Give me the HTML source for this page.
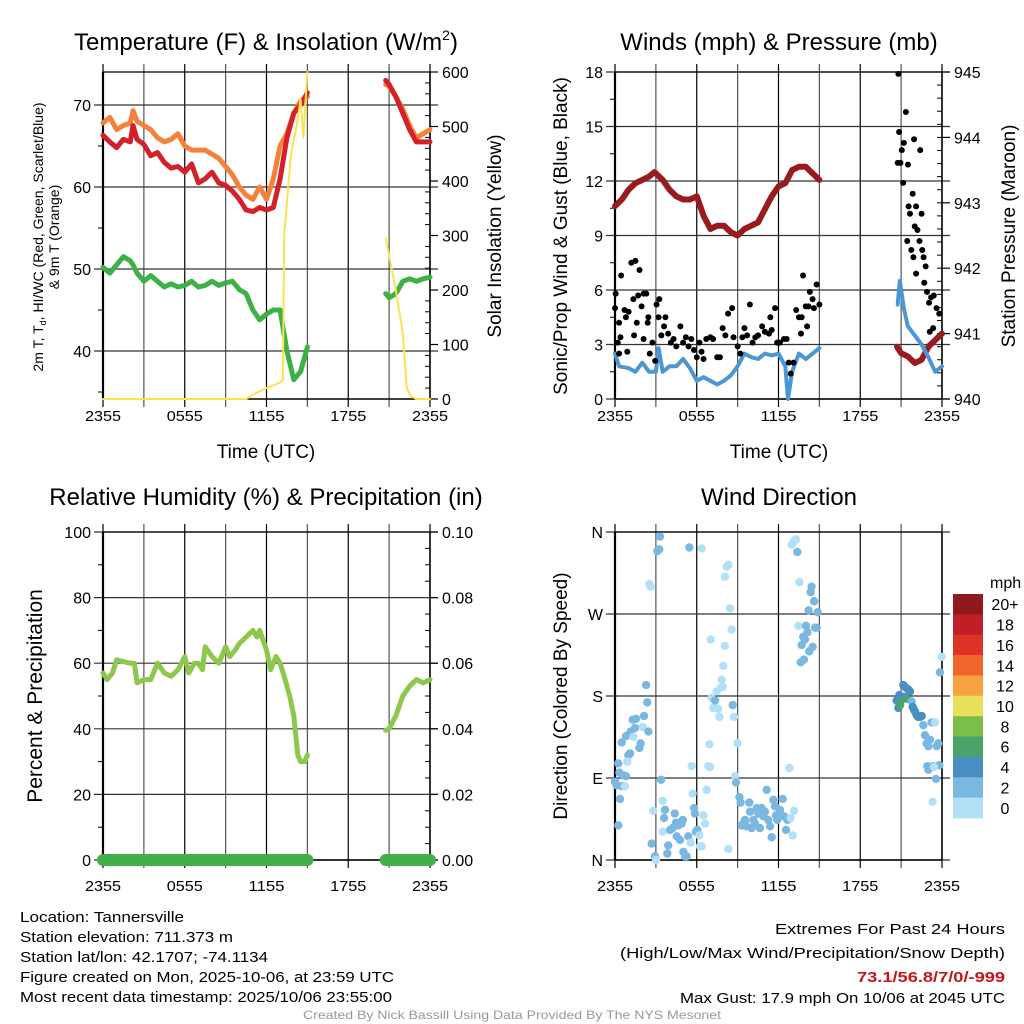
<!DOCTYPE html>
<html><head><meta charset="utf-8">
<style>
html,body{margin:0;padding:0;background:#fff;}
svg{display:block;font-family:"Liberation Sans",sans-serif;}
</style></head>
<body>
<svg id="chart" width="1024" height="1024" viewBox="0 0 1024 1024" xmlns="http://www.w3.org/2000/svg">
<rect width="1024" height="1024" fill="#fff"/>
<g id="p1"></g>
<g id="p2"></g>
<g id="p3"></g>
<g id="p4"></g>
<g id="cb"></g>

<text x="266" y="50" font-size="24" text-anchor="middle">Temperature (F) &amp; Insolation (W/m<tspan font-size="14" dy="-10">2</tspan><tspan dy="10">)</tspan></text>
<text x="779" y="50" font-size="24" text-anchor="middle">Winds (mph) &amp; Pressure (mb)</text>
<text x="266" y="505" font-size="24" text-anchor="middle">Relative Humidity (%) &amp; Precipitation (in)</text>
<text x="779" y="505" font-size="24" text-anchor="middle">Wind Direction</text>

<g font-size="15">
<text x="20" y="922" textLength="164" lengthAdjust="spacingAndGlyphs">Location: Tannersville</text>
<text x="20" y="942" textLength="213" lengthAdjust="spacingAndGlyphs">Station elevation: 711.373 m</text>
<text x="20" y="962" textLength="248" lengthAdjust="spacingAndGlyphs">Station lat/lon: 42.1707; -74.1134</text>
<text x="20" y="982" textLength="374" lengthAdjust="spacingAndGlyphs">Figure created on Mon, 2025-10-06, at 23:59 UTC</text>
<text x="20" y="1002" textLength="372" lengthAdjust="spacingAndGlyphs">Most recent data timestamp: 2025/10/06 23:55:00</text>
</g>
<g font-size="15" text-anchor="end">
<text x="1005" y="934" textLength="230" lengthAdjust="spacingAndGlyphs">Extremes For Past 24 Hours</text>
<text x="1005" y="958" textLength="385" lengthAdjust="spacingAndGlyphs">(High/Low/Max Wind/Precipitation/Snow Depth)</text>
<text x="1005" y="982" textLength="148" lengthAdjust="spacingAndGlyphs" fill="#c4161c" font-weight="bold">73.1/56.8/7/0/-999</text>
<text x="1005" y="1003" textLength="325" lengthAdjust="spacingAndGlyphs">Max Gust: 17.9 mph On 10/06 at 2045 UTC</text>
</g>
<text x="512" y="1019" font-size="12" fill="#999" text-anchor="middle" textLength="418" lengthAdjust="spacingAndGlyphs">Created By Nick Bassill Using Data Provided By The NYS Mesonet</text>
</svg>
<script>
// ---------- DATA ----------
const xTickLabels = ["2355","0555","1155","1755","2355"];
const tempHours = [0,0.5,1,1.5,2,2.2,2.5,3,3.5,4,4.5,5,5.5,6,6.5,7,7.5,8,8.5,9,9.5,10,10.5,11,11.5,12,12.5,13,13.5,14,14.5,15];
const temp2m = [66.3,65.5,64.8,65.8,65.5,67.5,65.8,65.2,63.8,64.2,63,62.3,62.5,61.8,62.8,60.5,61,61.8,60.5,60.2,59.5,58.5,57.2,57,57.5,57.2,57.5,61,66,69,70,71.5];
const temp9m = [67.8,68.5,67,67.5,67.8,69.3,68,67.5,67,66,65.5,65.8,66.5,65,64.5,64.5,64.5,64,63.5,62.5,61.5,60,59,58.5,60,58.5,61,65,66.5,69,70.5,71];
const dewpt = [50.2,49.5,50.5,51.5,51,50.5,49.5,48.5,49.2,48.5,47.8,48.2,47.8,48,48.5,47.8,48,48.5,48,48.3,48.5,47.5,47,45,43.8,44.5,45,45,40,36.5,37.5,40.5];
const tempHours2 = [20.75,21,21.5,22,22.5,23,23.5,24];
const temp2m2 = [73,72.5,71,69,67,65.5,65.5,65.5];
const temp9m2 = [72.5,72.3,71,69.5,67.5,66,66.5,67];
const dewpt2 = [47,46.5,47,48.5,48.8,48.5,48.8,49];
const solarHours = [0,10.5,11,12,13,13.2,13.3,13.8,14.2,14.5,14.7,15];
const solar = [0,0,8,20,30,35,300,450,500,550,480,600];
const solarHours2 = [20.75,21.5,22,22.3,22.6,23,24];
const solar2 = [295,200,120,20,5,0,0];
const tempTicks = [40,50,60,70];
const solarTicks = [0,100,200,300,400,500,600];
const windHours = [0,0.3,1,1.5,2,2.5,3,3.2,3.5,4,4.5,5,5.5,6,6.5,7,7.5,8,8.5,9,9.5,10,10.5,11,11.5,12,12.5,12.7,13,13.5,14,14.5,15];
const windSpeed = [2.5,1.8,1.7,1.5,2,1.5,1.5,2.8,1.5,1.8,1.8,2.2,1.7,1,1.2,1,0.8,1,1.3,1.8,2.5,2.3,2.2,2.5,2.4,2.5,1.8,0,1.5,2.5,2.2,2.5,2.8];
const windHours2 = [20.75,20.9,21.2,21.5,22,22.5,23,23.5,24];
const windSpeed2 = [5.2,6.5,5,4,3.5,3,2.3,1.5,1.8];
const gustHours = [0,0.05,0.2,0.3,0.45,0.3,0.4,0.7,0.8,0.9,1.0,1.2,1.5,1.8,1.35,1.4,1.6,1.7,1.95,2.1,2.3,2.1,2.45,2.4,2.55,2.75,2.95,3.05,3.25,3.2,3.4,3.6,3.7,3.9,4.1,4.3,4.5,4.8,5.0,5.2,5.4,5.6,5.8,6.0,6.2,6.35,6.5,6.7,7.0,7.2,7.5,7.7,7.9,8.1,8.3,8.6,8.7,9.0,9.2,9.35,9.5,9.9,9.7,10.1,10.3,10.5,10.8,11.0,11.3,11.4,11.5,11.75,11.9,12.1,12.4,12.6,12.75,12.9,13.1,13.3,13.5,13.7,13.8,14.0,14.1,14.3,14.5,14.6,14.8,15.0,13.65,14.2,
 20.8,20.85,20.75,20.95,21.05,21.2,21.35,21.15,21.45,21.5,21.55,21.65,21.75,21.85,21.9,21.95,22.1,22.1,22.0,22.2,22.35,22.4,22.5,22.55,22.65,22.8,22.7,22.9,23.05,23.2,23.4,23.1,23.35,23.6,23.8];
const gustSpeed = [5.0,5.8,3.1,2.5,6.8,4.2,3.4,4.9,4.5,2.6,4.8,7.5,7.6,7.1,5.5,3.5,4.2,5.7,5.1,5.8,5.8,3.3,4.5,4.2,2.5,3.1,2.1,5.2,5.5,4.5,3.5,4.0,4.5,3.6,3.1,3.3,2.9,4.0,3.1,3.4,2.9,3.3,2.7,2.3,3.1,2.6,2.2,3.3,3.4,3.3,2.3,2.3,3.9,3.5,4.7,5.0,3.4,2.9,2.5,3.4,3.9,5.2,3.5,3.1,3.4,3.5,4.0,3.7,3.6,4.5,3.8,5.0,3.1,3.1,3.3,3.3,2.0,1.4,2.0,4.9,4.5,4.5,6.8,5.1,4.0,5.9,5.5,5.0,6.3,5.2,3.6,5.1,
 17.9,14.7,13.0,13.0,13.7,14.1,15.8,11.9,8.7,12.9,10.6,10.2,8.2,11.3,7.8,14.3,10.6,6.9,9.5,9.3,8.7,13.7,10.2,8.2,7.8,7.3,6.4,5.9,5.3,5.6,5.7,3.7,3.9,5.0,4.7];
const presHours = [0,0.5,1,1.5,2,2.5,2.9,3.5,4,4.5,5,5.5,6,6.5,7,7.5,8,8.5,9,9.5,10,10.5,11,11.5,12,12.5,13,13.5,14,14.5,15];
const pressure = [942.95,943.05,943.2,943.3,943.35,943.4,943.47,943.35,943.2,943.1,943.05,943.05,943.1,942.8,942.6,942.65,942.65,942.55,942.5,942.6,942.65,942.7,942.9,943.1,943.25,943.3,943.5,943.55,943.55,943.45,943.35];
const presHours2 = [20.7,21,21.5,22,22.5,23,23.5,24];
const pressure2 = [940.8,940.7,940.65,940.55,940.6,940.8,940.9,941.0];
const windTicks = [0,3,6,9,12,15,18];
const presTicks = [940,941,942,943,944,945];
const rhHours = [0,0.3,0.7,1,1.5,2,2.3,2.5,3,3.5,4,4.5,5,5.5,6,6.3,6.7,7,7.3,7.5,8,8.5,9,9.3,9.7,10,10.5,11,11.3,11.5,12,12.3,12.7,13,13.3,13.7,14,14.3,14.5,14.8,15];
const rh = [57,55,57,61,60.5,60,60,54,55,55,60,57,56,58,62,57,60,60,58,65,62,60,65,62,64,66,68,70,68,70,64,58,62,60,56,50,44,32,30,30,32];
const rhHours2 = [20.75,21,21.5,22,22.5,23,23.5,24];
const rh2 = [39.5,40,44,50,53,55,54,55];
const precipHours = [0,15];
const precip = [0,0];
const precipHours2 = [20.75,24];
const precip2 = [0,0];
const rhTicks = [0,20,40,60,80,100];
const precipTicks = ["0.00","0.02","0.04","0.06","0.08","0.10"];
const dirHours = [
 0.0,0.12,0.24,0.32,0.37,0.49,0.61,0.73,0.81,0.24,
 0.49,0.81,0.98,0.91,1.10,1.15,1.35,1.47,1.30,1.54,
 1.79,1.88,2.03,2.13,2.28,2.37,2.45,2.52,2.62,2.69,
 2.81,2.94,3.01,3.11,3.25,3.30,3.38,3.50,3.67,3.60,
 3.50,3.91,3.84,4.04,4.23,4.38,4.48,4.53,4.65,4.77,
 4.89,4.97,5.02,5.14,5.26,5.38,5.46,5.55,5.63,5.70,
 5.80,5.87,5.94,6.04,6.19,6.24,6.36,6.36,6.48,6.61,
 6.73,6.85,6.97,6.92,7.02,7.09,7.22,7.34,7.46,7.58,
 7.66,7.76,7.83,7.90,7.95,8.07,8.07,8.20,8.32,8.44,
 8.56,8.64,8.73,8.81,8.88,8.98,8.32,9.13,9.22,9.30,
 9.42,9.54,9.66,9.86,9.91,10.03,10.15,10.28,10.40,10.52,
 10.64,10.76,10.89,11.01,11.13,11.25,11.38,11.50,11.62,11.74,
 11.82,11.91,12.11,12.31,12.40,12.55,12.65,12.80,12.89,13.04,
 13.14,12.97,13.14,13.28,13.38,13.46,13.53,13.63,13.70,13.82,
 13.87,13.94,14.02,14.12,14.21,14.26,14.36,14.43,14.51,14.61,
 14.68,14.80,14.87,
 20.67,20.80,20.87,20.92,21.04,21.16,21.21,21.36,21.41,21.53,
 21.65,21.77,21.85,21.94,22.02,22.14,22.26,22.39,22.51,22.63,
 22.75,22.87,23.00,23.12,23.24,23.36,22.92,23.00,23.31,23.49,
 23.56,23.61,23.73,23.80,23.85,23.98,23.41];
const dirDeg = [
 86,82,106,96,67,81,93,81,92,38,
 129,136,115,108,117,141,135,145,154,155,
 123,128,146,158,192,173,141,303,300,18,
 54,4,0,339,341,355,88,65,55,46,
 31,16,7,33,35,51,41,26,38,22,
 40,44,9,4,4,26,343,19,103,73,
 57,51,31,33,27,15,15,342,49,40,
 77,103,102,127,242,178,167,175,185,166,
 157,189,198,190,213,235,311,322,324,276,
 253,170,157,92,85,128,12,69,63,38,
 40,44,37,63,53,35,44,40,57,51,
 35,57,48,53,77,44,37,25,66,59,
 49,44,55,67,48,33,44,101,46,27,
 54,346,350,352,338,257,305,217,236,245,
 220,242,257,250,274,229,294,300,234,284,
 255,255,272,
 175,167,181,170,176,192,179,189,177,187,
 185,174,168,165,163,159,157,157,158,148,
 137,128,125,132,151,103,103,99,64,151,
 89,125,128,104,206,223,102];
const dirSpeed = [
 3,3,3,3,3,3,3,1,3,3,
 3,3,3,1,3,3,1,3,3,3,
 3,3,1,3,3,3,3,1,1,3,
 1,3,1,3,3,3,3,1,3,3,
 1,3,3,3,3,3,3,3,3,3,
 3,3,3,3,3,3,3,1,1,1,
 3,3,3,3,1,1,1,1,1,1,
 1,1,1,1,1,1,1,3,1,1,
 1,1,1,1,1,1,1,1,1,1,
 1,3,1,1,3,1,1,3,3,3,
 3,3,3,3,3,3,3,3,3,3,
 3,3,3,3,3,3,3,3,3,3,
 3,3,3,3,3,3,3,1,1,1,
 1,1,1,1,3,1,1,3,3,3,
 3,3,3,3,3,3,3,3,3,3,
 3,3,3,
 5,5,5,7,7,5,5,5,7,5,
 5,3,5,5,5,5,5,5,5,3,
 3,3,3,3,3,3,3,3,1,1,
 3,3,3,3,3,1,1];
const dirTickLabels = ["N","E","S","W","N"];
const cbColors = ["#8e1a1d","#c11f26","#dd3328","#f0652c","#f6a243","#e8e05a","#7cbf48","#48a46b","#4a8fc4","#7ab8e2","#b3e0f7"];
const cbLabels = ["20+","18","16","14","12","10","8","6","4","2","0"];

// ---------- DRAW ----------
const NS="http://www.w3.org/2000/svg";
function mk(parent,tag,attrs){const e=document.createElementNS(NS,tag);for(const k in attrs)e.setAttribute(k,attrs[k]);parent.appendChild(e);return e;}
function txt(parent,x,y,s,size,anchor,extra){const t=mk(parent,'text',Object.assign({x:x,y:y,'font-size':size,'text-anchor':anchor||'middle'},extra||{}));t.textContent=s;return t;}
function pathFrom(hs,vs,X,Y){return hs.map((h,i)=>(i?'L':'M')+X(h).toFixed(1)+' '+Y(vs[i]).toFixed(1)).join(' ');}
function line(parent,hs,vs,X,Y,color,w,name){const p=mk(parent,'path',{d:pathFrom(hs,vs,X,Y),fill:'none',stroke:color,'stroke-width':w,'stroke-linejoin':'round','stroke-linecap':'round'});return p;}

function frame(g,L,R,T,B,X,hLinesY,yLabels,rLabelsY,rLabels,xLabelY){
  for(let h=0;h<=24;h+=3){const x=X(h);const l=mk(g,'line',{x1:x,x2:x,y1:T-8,y2:B+8,stroke:(h%6===0?'#000':'#555'),'stroke-width':1.2});}
  hLinesY.forEach((y,i)=>{const l=mk(g,'line',{x1:L-9,x2:R+8,y1:y,y2:y,stroke:'#333','stroke-width':1.2});
    const t=txt(g,L-12,y+6,yLabels[i],16,'end');});
  if(rLabels){rLabelsY.forEach((y,i)=>{mk(g,'line',{x1:R,x2:R+8,y1:y,y2:y,stroke:'#000','stroke-width':1.2});const t=txt(g,R+12,y+6,rLabels[i],16,'start');});}
  mk(g,'line',{x1:L,x2:R,y1:T,y2:T,stroke:'#000','stroke-width':1.2});
  mk(g,'line',{x1:L,x2:R,y1:B,y2:B,stroke:'#000','stroke-width':1.5});
  mk(g,'line',{x1:L,x2:L,y1:T,y2:B,stroke:'#000','stroke-width':2.2});
  mk(g,'line',{x1:R,x2:R,y1:T,y2:B,stroke:'#000','stroke-width':1.5});
  xTickLabels.forEach((s,i)=>{const t=txt(g,X(i*6),xLabelY,s,15,'middle',{textLength:36,lengthAdjust:'spacingAndGlyphs'});});
}

(function(){const g=document.getElementById('p1');
 const L=103,R=430,T=72,B=399;
 const X=h=>L+h*(R-L)/24, Y=t=>105+(70-t)*8.2, YS=s=>B-s*(B-T)/600;
 [35,45,55,65].forEach(v=>mk(g,'line',{x1:L-5,x2:L,y1:Y(v),y2:Y(v),stroke:'#000'}));
 for(let s=20;s<600;s+=20){if(s%100)mk(g,'line',{x1:R-5,x2:R,y1:YS(s),y2:YS(s),stroke:'#000'});}
 frame(g,L,R,T,B,X,tempTicks.map(Y),tempTicks.map(String),solarTicks.map(YS),solarTicks.map(String),421);
 line(g,tempHours,temp9m,X,Y,'#f4823a',5,'temp-9m-line');line(g,tempHours2,temp9m2,X,Y,'#f4823a',5,'temp-9m-line-2');
 line(g,tempHours,temp2m,X,Y,'#d22128',5,'temp-2m-line');line(g,tempHours2,temp2m2,X,Y,'#d22128',5,'temp-2m-line-2');
 line(g,tempHours,dewpt,X,Y,'#3db146',5,'dewpoint-line');line(g,tempHours2,dewpt2,X,Y,'#3db146',5,'dewpoint-line-2');
 line(g,solarHours,solar,X,YS,'#fde24f',2,'solar-line');line(g,solarHours2,solar2,X,YS,'#fde24f',2,'solar-line-2');
 let t=txt(g,266,458,'Time (UTC)',19);
 t=txt(g,0,0,'2m T, T',14,'middle',{transform:'translate(43,237) rotate(-90)'});const sub=mk(t,'tspan',{'font-size':9,dy:3});sub.textContent='d';const rest=mk(t,'tspan',{dy:-3});rest.textContent=', HI/WC (Red, Green, Scarlet/Blue)';
 
 t=txt(g,0,0,'& 9m T (Orange)',14,'middle',{transform:'translate(59,237) rotate(-90)'});
 t=txt(g,0,0,'Solar Insolation (Yellow)',19,'middle',{transform:'translate(501,236) rotate(-90)'});
})();

(function(){const g=document.getElementById('p2');
 const L=615,R=942,T=72,B=399;
 const X=h=>L+h*(R-L)/24, Y=v=>B-v*(B-T)/18, YP=p=>B-(p-940)*(B-T)/5;
 for(let v=1.5;v<18;v+=3)mk(g,'line',{x1:L-5,x2:L,y1:Y(v),y2:Y(v),stroke:'#000'});
 for(let p=940.2;p<945;p+=0.2){mk(g,'line',{x1:R-5,x2:R,y1:YP(p),y2:YP(p),stroke:'#000'});}
 frame(g,L,R,T,B,X,windTicks.map(Y),windTicks.map(String),presTicks.map(YP),presTicks.map(String),421);
 line(g,presHours,pressure,X,YP,'#981b1e',6,'pressure-line');line(g,presHours2,pressure2,X,YP,'#981b1e',6,'pressure-line-2');
 line(g,windHours,windSpeed,X,Y,'#4c97d2',4,'wind-speed-line');line(g,windHours2,windSpeed2,X,Y,'#4c97d2',4,'wind-speed-line-2');
 gustHours.forEach((h,i)=>{const c=mk(g,'circle',{cx:X(h),cy:Y(gustSpeed[i]),r:3,fill:'#000'});});
 let t=txt(g,779,458,'Time (UTC)',19);
 t=txt(g,0,0,'Sonic/Prop Wind & Gust (Blue, Black)',19,'middle',{transform:'translate(567,236) rotate(-90)'});
 t=txt(g,0,0,'Station Pressure (Maroon)',19,'middle',{transform:'translate(1015,236) rotate(-90)'});
})();

(function(){const g=document.getElementById('p3');
 const L=103,R=430,T=532,B=860;
 const X=h=>L+h*(R-L)/24, Y=v=>B-v*(B-T)/100, YP=p=>B-p*(B-T)/0.1;
 for(let v=10;v<100;v+=20)mk(g,'line',{x1:L-5,x2:L,y1:Y(v),y2:Y(v),stroke:'#000'});
 for(let v=5;v<100;v+=5){if(v%20)mk(g,'line',{x1:R-5,x2:R,y1:Y(v),y2:Y(v),stroke:'#000'});}
 frame(g,L,R,T,B,X,rhTicks.map(Y),rhTicks.map(String),rhTicks.map(Y),precipTicks,891);
 line(g,rhHours,rh,X,Y,'#8dc84c',5,'humidity-line');line(g,rhHours2,rh2,X,Y,'#8dc84c',5,'humidity-line-2');
 line(g,precipHours,precip,X,YP,'#41b047',12,'precip-line');line(g,precipHours2,precip2,X,YP,'#41b047',12,'precip-line-2');
 let t=txt(g,0,0,'Percent & Precipitation',21,'middle',{transform:'translate(42,696) rotate(-90)'});
})();

(function(){const g=document.getElementById('p4');
 const L=615,R=942,T=532,B=860;
 const X=h=>L+h*(R-L)/24, Y=d=>B-d*(B-T)/360;
 const dirs=[0,90,180,270,360];
 frame(g,L,R,T,B,X,dirs.map(Y),dirTickLabels,[],null,891);
 const bin=s=>Math.min(10,Math.floor(s/2));
 const n=Math.min(dirHours.length,dirDeg.length,dirSpeed.length);
 for(let i=0;i<n;i++){const c=mk(g,'circle',{cx:X(dirHours[i]),cy:Y(dirDeg[i]),r:4.2,fill:cbColors[10-bin(dirSpeed[i])]});}
 let t=txt(g,0,0,'Direction (Colored By Speed)',19,'middle',{transform:'translate(567,696) rotate(-90)'});
})();

(function(){const g=document.getElementById('cb');
 const T=594,B=818,h=(B-T)/cbColors.length;
 cbColors.forEach((c,i)=>{const r=mk(g,'rect',{x:953,y:T+i*h,width:30,height:h+0.3,fill:c});
   const t=txt(g,1005,T+i*h+h/2+6,cbLabels[i],16);});
 const t=txt(g,990,588,'mph',16,'start');
})();
</script>
</body></html>
